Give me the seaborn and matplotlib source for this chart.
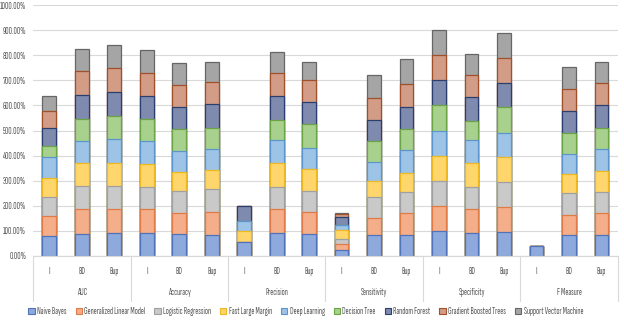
import matplotlib
matplotlib.use("Agg")
import matplotlib.pyplot as plt
from matplotlib.patches import Patch
import seaborn as sns
import numpy as np
import pandas as pd

groups = ["AUC", "Accuracy", "Precision", "Sensitivity", "Specificity", "F Measure"]
subs = ["I", "BD", "Bup"]
models = ["Naive Bayes", "Generalized Linear Model", "Logistic Regression",
          "Fast Large Margin", "Deep Learning", "Decision Tree", "Random Forest",
          "Gradient Boosted Trees", "Support Vector Machine"]

# values in %, order: AUC(I,BD,Bup), Accuracy(...), Precision, Sensitivity, Specificity, F Measure
naive_bayes = [80, 88, 90, 90, 86, 84, 57, 90, 86, 24, 84, 84, 101, 90, 97, 40, 84, 84]
glm         = [79, 98, 99, 96, 84, 90, 0, 96, 89, 23, 66, 89, 100, 96, 100, 0, 79, 89]
log_reg     = [77, 93, 90, 90, 89, 92, 0, 90, 85, 22, 86, 81, 99, 90, 96, 0, 89, 83]
fast_lm     = [76, 90, 93, 89, 77, 77, 42, 93, 87, 35, 63, 78, 100, 93, 100, 0, 75, 83]
deep_learn  = [84, 90, 93, 93, 84, 83, 42, 93, 85, 19, 74, 90, 99, 93, 98, 0, 79, 86]
dec_tree    = [42, 89, 94, 88, 86, 85, 0, 82, 93, 2, 85, 83, 103, 77, 101, 0, 85, 87]
rand_forest = [73, 93, 93, 93, 89, 93, 57, 95, 87, 29, 86, 87, 99, 96, 99, 0, 88, 90]
gbt         = [67, 97, 96, 91, 86, 91, 0, 89, 89, 13, 84, 93, 100, 86, 100, 0, 85, 89]
svm         = [61, 89, 95, 91, 89, 79, 0, 86, 73, 5, 93, 100, 99, 84, 99, 0, 90, 83]

series = [naive_bayes, glm, log_reg, fast_lm, deep_learn, dec_tree, rand_forest, gbt, svm]

fills = ["#8EA9DB", "#F4AE8A", "#C9C9C9", "#FFD66B", "#9DC3E6",
         "#A9D18E", "#7F8BAE", "#D29C86", "#A5A5A5"]
edges = ["#4F72B8", "#E07B45", "#A0A0A0", "#F0B820", "#5B95CC",
         "#6AA445", "#2A3F6E", "#A0502A", "#666666"]

sns.set_theme(style="white")
plt.rcParams["font.family"] = ["Sofia Sans Extra Condensed", "DejaVu Sans"]
txt_col = "#595959"

xcats = [f"{g}|{s}" for g in groups for s in subs]
vals = np.array(series, dtype=float)
cum = np.cumsum(vals, axis=0)

fig = plt.figure(figsize=(6.24, 3.22), dpi=100)
ax = fig.add_axes([0.053, 0.205, 0.937, 0.779])

for k in range(len(models) - 1, -1, -1):
    df = pd.DataFrame({"x": xcats, "y": cum[k]})
    sns.barplot(data=df, x="x", y="y", order=xcats, color=fills[k], saturation=1,
                width=0.42, edgecolor=edges[k], linewidth=0.9, ax=ax, errorbar=None)

ax.set_xlim(-0.5, len(xcats) - 0.5)
ax.set_ylim(0, 1000)
yt = np.arange(0, 1001, 100)
ax.set_yticks(yt)
ax.set_yticklabels([f"{v:.2f}%" for v in yt], fontsize=6.5, color=txt_col)
ax.yaxis.grid(True, color="#D9D9D9", linewidth=0.8)
ax.set_axisbelow(True)
for s in ax.spines.values():
    s.set_visible(False)
ax.tick_params(axis="y", length=0, pad=5)
ax.tick_params(axis="x", length=0, pad=8)
ax.set_xticks(range(len(xcats)))
ax.set_xticklabels([c.split("|")[1] for c in xcats], fontsize=6.5, color=txt_col)
ax.set_xlabel("")
ax.set_ylabel("")
ax.axhline(0, color="#D9D9D9", linewidth=0.9, clip_on=False)

trans = ax.get_xaxis_transform()
for i, g in enumerate(groups):
    ax.text(3 * i + 1, -0.145, g, transform=trans, ha="center", va="center",
            fontsize=6.5, color=txt_col)
for b in np.arange(-0.5, len(xcats), 3):
    ax.plot([b, b], [0, -0.18], transform=trans, color="#D9D9D9", linewidth=0.8,
            clip_on=False)

handles = [Patch(facecolor=fills[k], edgecolor=edges[k], linewidth=0.8, label=models[k])
           for k in range(len(models))]
fig.legend(handles=handles, loc="center", bbox_to_anchor=(0.49, 0.032), ncol=9,
           frameon=False, fontsize=6.5, handlelength=0.7, handleheight=0.7,
           handletextpad=0.25, columnspacing=1.0, labelcolor=txt_col)

fig.savefig("out.png", dpi=100)
